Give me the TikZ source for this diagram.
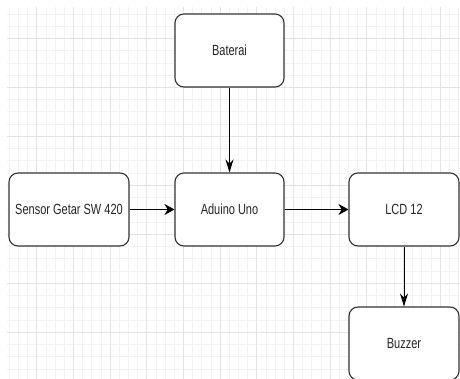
\documentclass[tikz,border=0pt]{standalone}
\usepackage{fontspec}
\setmainfont{Liberation Sans}
\usepackage{graphicx}
\usetikzlibrary{arrows.meta}
\usetikzlibrary{shapes}

\newcommand{\tall}[1]{\scalebox{1}[1.34]{#1}}

\tikzset{
  block/.style={draw=black!80, line width=1.1pt, rounded corners=9pt, fill=white,
    minimum width=109pt, minimum height=73pt, inner sep=0pt, text=black!85,
    font=\fontsize{11}{13}\selectfont},
  link/.style={draw=black, line width=0.9pt, -{Stealth[length=10pt,width=11pt]}},
  down link/.style={draw=black, line width=0.9pt, -{Stealth[length=13pt,width=8pt]}}
}

\begin{document}
\begin{tikzpicture}[x=1pt,y=-1pt]
\useasboundingbox (0,0) rectangle (460,379);
\fill[white] (0,0) rectangle (460,379);
\begin{scope}
\clip (7,7) rectangle (460,379);
% fine grid
\foreach \i in {-3,...,46}  {
\draw [black!5, line width=0.5pt] (36.66+9.165*\i,7) -- (36.66+9.165*\i,379);
}
\foreach \j in {-2,...,28}  {
\draw [black!5, line width=0.5pt] (7,38.3+12.24*\j) -- (460,38.3+12.24*\j);
}
% coarse grid
\foreach \i in {0,...,11}  {
\draw [black!11, line width=0.7pt] (36.66+36.66*\i,7) -- (36.66+36.66*\i,379);
}
\foreach \j in {0,...,7}  {
\draw [black!11, line width=0.7pt] (7,38.3+48.95*\j) -- (460,38.3+48.95*\j);
}
\end{scope}

\node[block] (bat) at (229.5,50.5) {\tall{Baterai}};
\node[block] (sensor) at (69,209.5) [minimum width=120pt] {\tall{Sensor Getar SW 420}};
\node[block] (uno) at (229.5,209.5) {\tall{Aduino Uno}};
\node[block] (lcd) at (404,209.5) [minimum width=110pt] {\tall{LCD 12}};
\node[block] (buzzer) at (404,343.5) [minimum width=110pt] {\tall{Buzzer}};

\draw [down link] (bat) -- (uno);
\draw [link] (sensor) -- (uno);
\draw [link] (uno) -- (lcd);
\draw [down link] (lcd) -- (buzzer);

\end{tikzpicture}
\end{document}
